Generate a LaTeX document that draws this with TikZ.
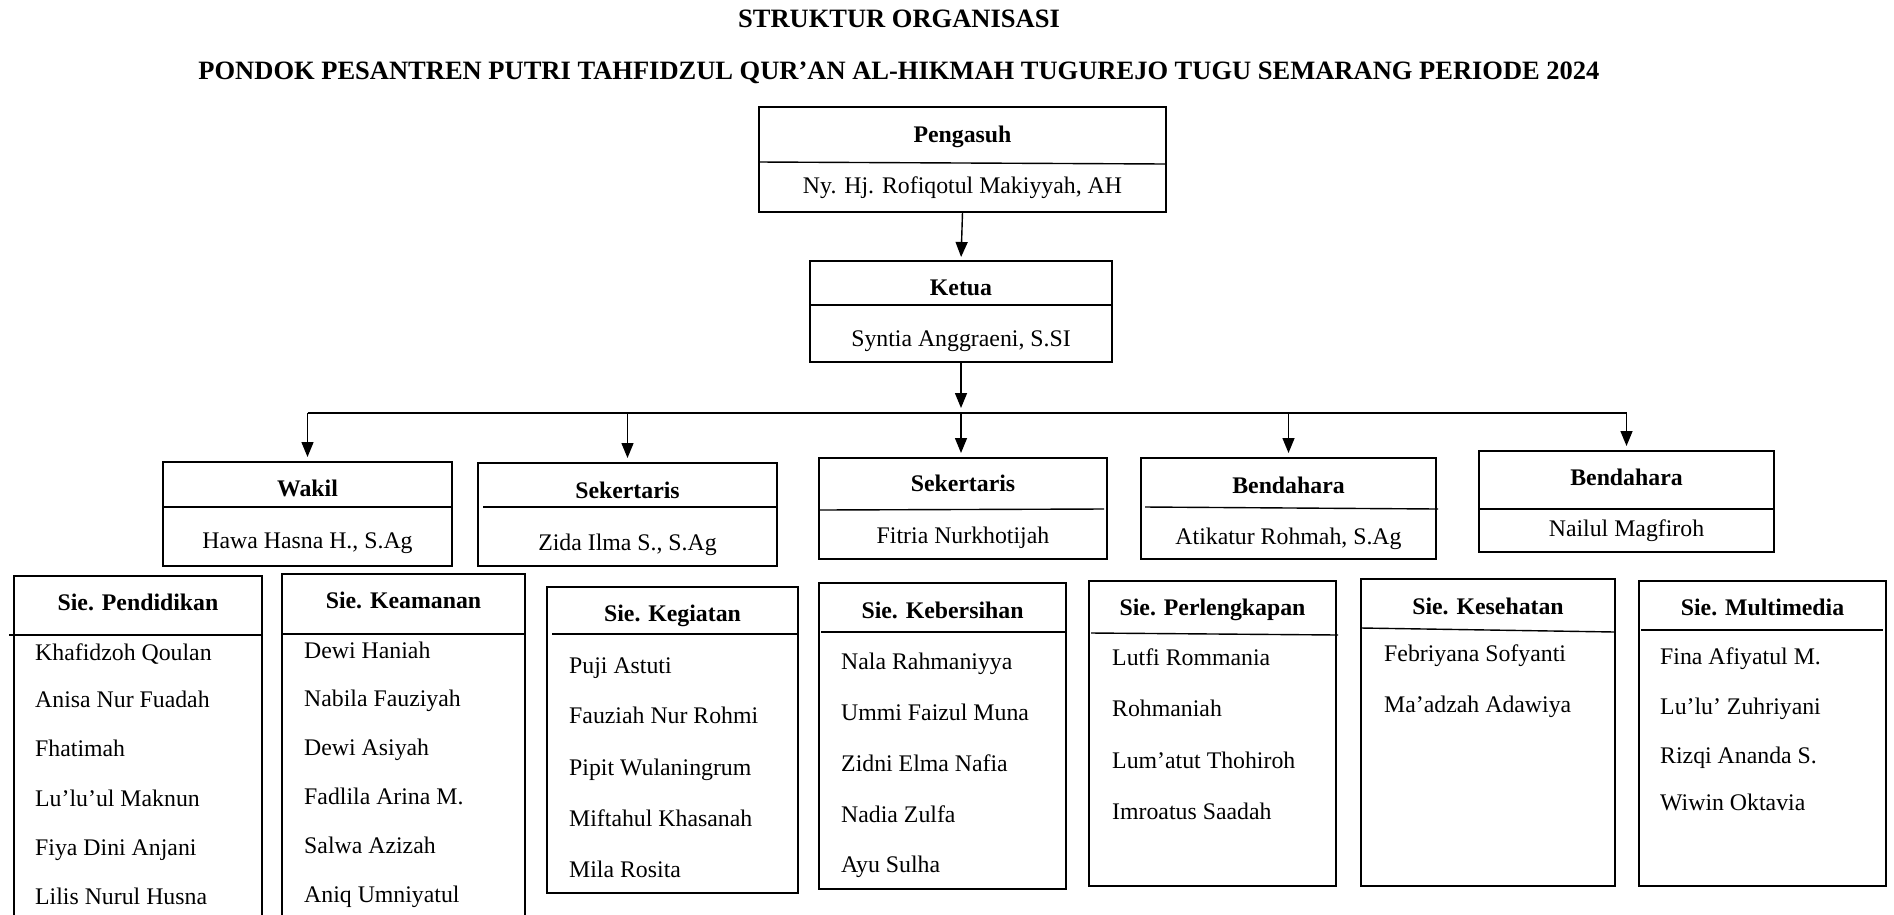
\documentclass[tikz,border=0pt]{standalone}
\usepackage{fontspec}
\setmainfont{Liberation Serif}
\usetikzlibrary{arrows.meta}
\newcommand\obox[5]{\node[frame, minimum width={(#4-#2)*1pt}, minimum height={(#5-#3)*1pt}] (#1) at ({(#2+#4)/2},{(#3+#5)/2}) {};}
\begin{document}
\begin{tikzpicture}[x=1pt,y=-1pt,
  frame/.style={draw, line width=2.6pt, inner sep=0pt, outer sep=0pt, rectangle},
  sepline/.style={line width=1.4pt},
  link/.style={line width=1.4pt, -{Triangle[width=12pt,length=15pt]}, shorten >=5pt},
  busline/.style={line width=1.4pt},
  head/.style={font=\fontsize{26.5}{30}\selectfont\bfseries, anchor=base, inner sep=0pt},
  ttl/.style={font=\fontsize{23.8}{28}\selectfont\bfseries, anchor=base, inner sep=0pt},
  nm/.style={font=\fontsize{23.8}{28}\selectfont, anchor=base, inner sep=0pt},
  item/.style={font=\fontsize{23.8}{28}\selectfont, anchor=base west, inner sep=0pt},
]
\useasboundingbox (0,0) rectangle (1894,914);
\fill[white] (0,0) rectangle (1894,914);
\clip (0,0) rectangle (1894,914);

% headings
\node[head] (h1) at (899,27) {STRUKTUR ORGANISASI};
\node[head] (h2) at (899,79) {PONDOK PESANTREN PUTRI TAHFIDZUL QUR’AN AL-HIKMAH TUGUREJO TUGU SEMARANG PERIODE 2024};

% top boxes
\obox{pen}{759}{107}{1166}{212}
\draw[sepline] (759,162) -- (1166,164);
\node[ttl] (pen-t) at (962.5,142) {Pengasuh};
\node[nm] (pen-n) at (962.5,193) {Ny. Hj. Rofiqotul Makiyyah, AH};

\obox{ket}{810}{261}{1112}{362}
\draw[sepline] (810,305) -- (1112,305);
\node[ttl] (ket-t) at (961,295) {Ketua};
\node[nm] (ket-n) at (961,346) {Syntia Anggraeni, S.SI};

% second row
\obox{wak}{163}{462}{452}{566}
\draw[sepline] (162,507) -- (452,507);
\node[ttl] (wak-t) at (307.5,496) {Wakil};
\node[nm] (wak-n) at (307.5,548) {Hawa Hasna H., S.Ag};

\obox{zid}{478}{463}{777}{566}
\draw[sepline] (483,507) -- (777,507);
\node[ttl] (zid-t) at (627.5,498) {Sekertaris};
\node[nm] (zid-n) at (627.5,550) {Zida Ilma S., S.Ag};

\obox{fit}{819}{458}{1107}{559}
\draw[sepline] (819,510) -- (1104,509);
\node[ttl] (fit-t) at (963,491) {Sekertaris};
\node[nm] (fit-n) at (963,543) {Fitria Nurkhotijah};

\obox{ati}{1141}{458}{1436}{559}
\draw[sepline] (1145,507) -- (1438,509);
\node[ttl] (ati-t) at (1288.5,493) {Bendahara};
\node[nm] (ati-n) at (1288.5,544) {Atikatur Rohmah, S.Ag};

\obox{nai}{1479}{451}{1774}{552}
\draw[sepline] (1479,509) -- (1774,509);
\node[ttl] (nai-t) at (1626.5,485) {Bendahara};
\node[nm] (nai-n) at (1626.5,536) {Nailul Magfiroh};

% connectors
\coordinate (busL) at (307.5,413);
\coordinate (busR) at (1626.5,413);
\draw[link, shorten >=4pt] (pen.south) -- (ket.north);
\draw[link] (ket.south) -- (ket.south |- busL);
\draw[busline] (busL) -- (busR);
\draw[link] (busL) -- (wak.north);
\draw[link] (zid.north |- busL) -- (zid.north);
\draw[link] (ket.south |- busL) -- (ket.south |- fit.north);
\draw[link] (ati.north |- busL) -- (ati.north);
\draw[link] (busR) -- (nai.north);

% sections
\obox{pend}{14}{576}{262}{940}
\draw[sepline] (9,635) -- (262,635);
\node[ttl] (pend-t) at (138,610) {Sie. Pendidikan};
\node[item] (pend-1) at (35,660) {Khafidzoh Qoulan};
\node[item] (pend-2) at (35,707) {Anisa Nur Fuadah};
\node[item] (pend-3) at (35,756) {Fhatimah};
\node[item] (pend-4) at (35,806) {Lu’lu’ul Maknun};
\node[item] (pend-5) at (35,855) {Fiya Dini Anjani};
\node[item] (pend-6) at (35,904) {Lilis Nurul Husna};

\obox{keam}{282}{574}{525}{940}
\draw[sepline] (282,634) -- (525,634);
\node[ttl] (keam-t) at (403.5,608) {Sie. Keamanan};
\node[item] (keam-1) at (304,658) {Dewi Haniah};
\node[item] (keam-2) at (304,706) {Nabila Fauziyah};
\node[item] (keam-3) at (304,755) {Dewi Asiyah};
\node[item] (keam-4) at (304,804) {Fadlila Arina M.};
\node[item] (keam-5) at (304,853) {Salwa Azizah};
\node[item] (keam-6) at (304,902) {Aniq Umniyatul};

\obox{keg}{547}{587}{798}{893}
\draw[sepline] (552,634) -- (798,634);
\node[ttl] (keg-t) at (672.5,621) {Sie. Kegiatan};
\node[item] (keg-1) at (569,673) {Puji Astuti};
\node[item] (keg-2) at (569,723) {Fauziah Nur Rohmi};
\node[item] (keg-3) at (569,775) {Pipit Wulaningrum};
\node[item] (keg-4) at (569,826) {Miftahul Khasanah};
\node[item] (keg-5) at (569,877) {Mila Rosita};

\obox{keb}{819}{583}{1066}{889}
\draw[sepline] (821,632) -- (1066,632);
\node[ttl] (keb-t) at (942.5,618) {Sie. Kebersihan};
\node[item] (keb-1) at (841,669) {Nala Rahmaniyya};
\node[item] (keb-2) at (841,720) {Ummi Faizul Muna};
\node[item] (keb-3) at (841,771) {Zidni Elma Nafia};
\node[item] (keb-4) at (841,822) {Nadia Zulfa};
\node[item] (keb-5) at (841,872) {Ayu Sulha};

\obox{perl}{1089}{581}{1336}{886}
\draw[sepline] (1091,633) -- (1338,635);
\node[ttl] (perl-t) at (1212.5,615) {Sie. Perlengkapan};
\node[item] (perl-1) at (1112,665) {Lutfi Rommania};
\node[item] (perl-2) at (1112,716) {Rohmaniah};
\node[item] (perl-3) at (1112,768) {Lum’atut Thohiroh};
\node[item] (perl-4) at (1112,819) {Imroatus Saadah};

\obox{kes}{1361}{579}{1615}{886}
\draw[sepline] (1361,628) -- (1615,632);
\node[ttl] (kes-t) at (1488,614) {Sie. Kesehatan};
\node[item] (kes-1) at (1384,661) {Febriyana Sofyanti};
\node[item] (kes-2) at (1384,712) {Ma’adzah Adawiya};

\obox{mult}{1639}{581}{1886}{886}
\draw[sepline] (1641,630) -- (1883,630);
\node[ttl] (mult-t) at (1762.5,615) {Sie. Multimedia};
\node[item] (mult-1) at (1660,664) {Fina Afiyatul M.};
\node[item] (mult-2) at (1660,714) {Lu’lu’ Zuhriyani};
\node[item] (mult-3) at (1660,763) {Rizqi Ananda S.};
\node[item] (mult-4) at (1660,810) {Wiwin Oktavia};
\end{tikzpicture}
\end{document}
